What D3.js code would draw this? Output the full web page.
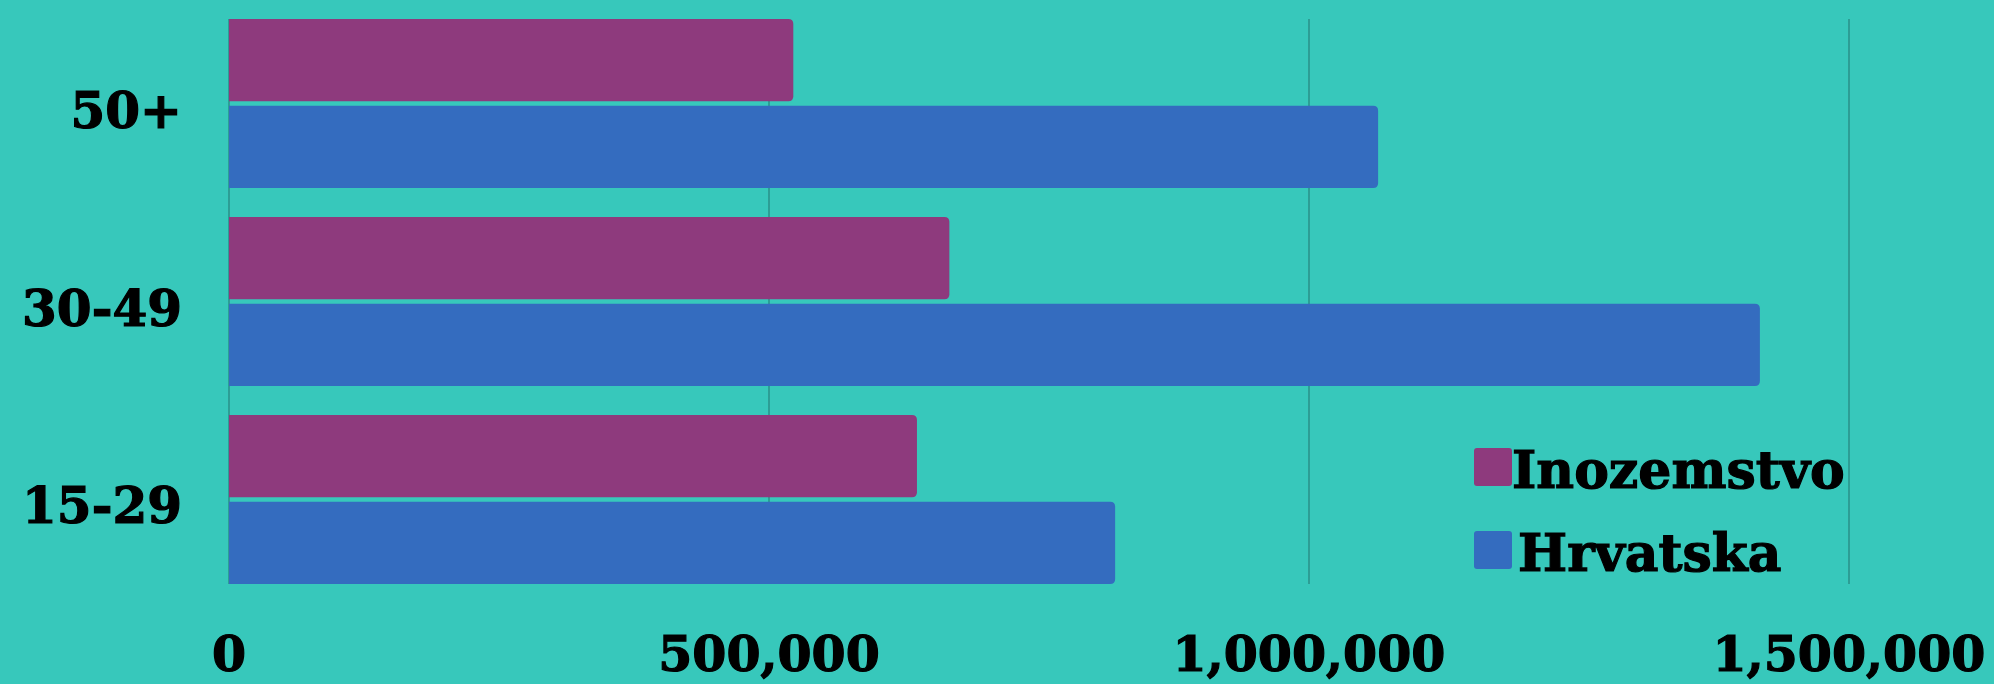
<!DOCTYPE html>
<html>
<head>
<meta charset="utf-8">
<script src="https://cdn.jsdelivr.net/npm/d3@7"></script>
<style>
  html, body { margin: 0; padding: 0; background: #37c8bb; }
  svg { display: block; }
  text { font-family: "DejaVu Serif", serif; font-weight: bold; fill: #000; stroke: #000; stroke-width: 1.2px; }
</style>
</head>
<body>
<svg id="chart" width="1994" height="684"></svg>
<script>
const categories = ["50+", "30-49", "15-29"];
const seriesNames = ["Inozemstvo", "Hrvatska"];
const inozemstvo = [522500, 667000, 637000];
const hrvatska = [1064000, 1417500, 820500];
const tickValues = [0, 500000, 1000000, 1500000];
const colors = ["#8e3a7d", "#346cbf"];

const W = 1994, H = 684;
const m = { left: 229, right: 145, top: 19, bottom: 100 };
const svg = d3.select("#chart");
svg.append("rect").attr("width", W).attr("height", H).attr("fill", "#37c8bb");

const x = d3.scaleLinear().domain([0, 1500000]).range([m.left, 1849]);
const y = d3.scaleBand().domain(categories).range([m.top, H - m.bottom]).paddingInner(0.146).paddingOuter(0);
const y1 = d3.scaleBand().domain(seriesNames).range([0, y.bandwidth()]).paddingInner(0.05).paddingOuter(0);

// gridlines
svg.append("g").selectAll("line").data(tickValues).join("line")
  .attr("x1", d => x(d)).attr("x2", d => x(d))
  .attr("y1", m.top).attr("y2", H - m.bottom)
  .attr("stroke", "#2a9088").attr("stroke-width", 1.5);

const rows = categories.map((c, i) => ({ cat: c, vals: [inozemstvo[i], hrvatska[i]] }));
const r = 5;
function barPath(x0, x1, y0, h) {
  return `M${x0},${y0} H${x1 - r} Q${x1},${y0} ${x1},${y0 + r} V${y0 + h - r} Q${x1},${y0 + h} ${x1 - r},${y0 + h} H${x0} Z`;
}
const g = svg.append("g");
rows.forEach(row => {
  row.vals.forEach((v, j) => {
    const yy = y(row.cat) + y1(seriesNames[j]);
    g.append("path")
      .attr("d", barPath(x(0), x(v), yy, y1.bandwidth()))
      .attr("fill", colors[j]);
  });
});

// category labels
svg.append("g").selectAll("text").data(categories).join("text")
  .attr("x", 182).attr("y", d => y(d) + y.bandwidth() / 2 + 24)
  .attr("text-anchor", "end").attr("font-size", 50)
  .text(d => d);

// x tick labels
const fmt = d3.format(",");
svg.append("g").selectAll("text").data(tickValues).join("text")
  .attr("x", d => x(d)).attr("y", 671)
  .attr("text-anchor", "middle").attr("font-size", 49)
  .text(d => fmt(d));

// legend
const lg = svg.append("g");
seriesNames.forEach((s, i) => {
  const cy = 467 + i * 83;
  lg.append("rect").attr("x", 1474).attr("y", cy - 19).attr("width", 38).attr("height", 38)
    .attr("rx", 3).attr("fill", colors[i]);
  lg.append("text").attr("x", 1512 + i * 6).attr("y", cy + 21).attr("font-size", 52).text(s);
});
</script>
</body>
</html>
